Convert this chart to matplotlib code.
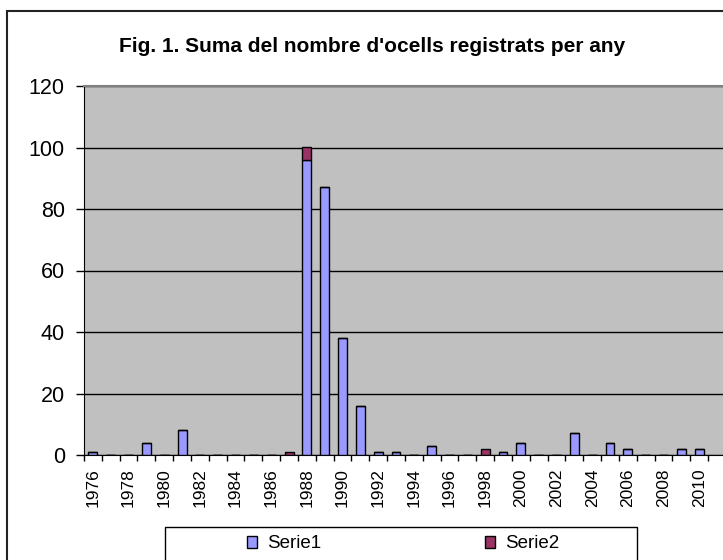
import matplotlib
matplotlib.use("Agg")
import matplotlib.pyplot as plt
from matplotlib.patches import Rectangle, Patch
import numpy as np

plt.rcParams['font.family'] = ['Liberation Sans', 'DejaVu Sans']

years = list(range(1976, 2011))
serie1 = [1, 0, 0, 4, 0, 8, 0, 0, 0, 0, 0, 0, 96, 87, 38, 16, 1, 1, 0, 3,
          0, 0, 0, 1, 4, 0, 0, 7, 0, 4, 2, 0, 0, 2, 2]
serie2 = [0, 0, 0, 0, 0, 0, 0, 0, 0, 0, 0, 1, 4, 0, 0, 0, 0, 0, 0, 0,
          0, 0, 2, 0, 0, 0, 0, 0, 0, 0, 0, 0, 0, 0, 0]
tick_labels = [str(y) for y in years if y % 2 == 0]
series_names = ["Serie1", "Serie2"]
title = "Fig. 1. Suma del nombre d'ocells registrats per any"

W, H = 723, 560
fig = plt.figure(figsize=(W / 100, H / 100), dpi=100)
fig.patch.set_facecolor('white')

ax_l, ax_r, ax_t, ax_b = 84, 723, 86, 455
ax = fig.add_axes([ax_l / W, 1 - ax_b / H, (ax_r - ax_l) / W, (ax_b - ax_t) / H])
ax.set_facecolor('#C0C0C0')

x = np.arange(len(years))
c1, c2 = '#9999FF', '#993366'
ax.bar(x, serie1, width=0.5, color=c1, edgecolor='black', linewidth=1, zorder=3)
ax.bar(x, serie2, width=0.5, bottom=serie1, color=c2, edgecolor='black', linewidth=1, zorder=3)

cat_px = 17.83
ax.set_xlim(-0.5, -0.5 + (ax_r - ax_l) / cat_px)
ax.set_ylim(0, 120)
ax.set_yticks(np.arange(0, 121, 20))
ax.yaxis.grid(True, color='black', linewidth=1, zorder=1)
ax.set_axisbelow(True)

ax.set_xticks(np.arange(-0.5, len(years) + 0.5, 1))
ax.set_xticklabels([])
label_pos = [i for i, y in enumerate(years) if y % 2 == 0]
ax.set_xticks(label_pos, minor=True)
ax.set_xticklabels(tick_labels, minor=True, rotation=90, fontsize=12.5)
ax.tick_params(axis='x', which='major', direction='out', length=4.5, width=1, color='black')
ax.tick_params(axis='x', which='minor', length=0, pad=9.5)
ax.tick_params(axis='y', direction='out', length=5.8, width=1, pad=8, labelsize=15.5)

ax.spines['top'].set_color('#808080')
ax.spines['top'].set_linewidth(1.5)
ax.spines['right'].set_visible(False)
ax.spines['left'].set_color('black')
ax.spines['bottom'].set_color('black')

fig.text(372 / W, 1 - 51.7 / H, title, ha='center', va='baseline',
         fontsize=15, fontweight='bold')

# outer chart border
fig.patches.append(Rectangle((7 / W, -0.1), 1.2, (H - 11) / H + 0.1,
                             transform=fig.transFigure, fill=False,
                             edgecolor='#222222', linewidth=1.5))
# legend box
fig.patches.append(Rectangle((165 / W, -0.1), (637 - 165) / W, (H - 527) / H + 0.1,
                             transform=fig.transFigure, fill=False,
                             edgecolor='black', linewidth=1))

handles = [Patch(facecolor=c1, edgecolor='black', linewidth=1, label=series_names[0]),
           Patch(facecolor=c2, edgecolor='black', linewidth=1, label=series_names[1])]
fig.legend(handles=handles, loc='center', bbox_to_anchor=(403 / W, 1 - 544 / H),
           ncol=2, frameon=False, fontsize=13.5, handlelength=0.55, handleheight=0.55,
           handletextpad=0.55, columnspacing=8.7, borderpad=0)

fig.savefig('out.png', dpi=100)
